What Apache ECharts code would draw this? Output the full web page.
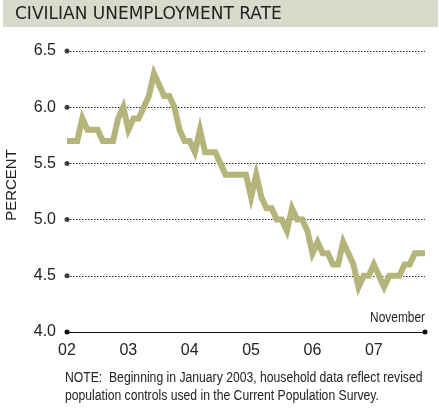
<!DOCTYPE html>
<html>
<head>
<meta charset="utf-8">
<script src="https://cdn.jsdelivr.net/npm/echarts@6/dist/echarts.min.js"></script>
<style>
html,body{margin:0;padding:0;background:#fff;}
#c{width:439px;height:411px;}
</style>
</head>
<body>
<div id="c"></div>
<script>
// Monthly civilian unemployment rate, Jan 2002 – Nov 2007
const rate2002 = [5.7,5.7,5.7,5.9,5.8,5.8,5.8,5.7,5.7,5.7,5.9,6.0];
const rate2003 = [5.8,5.9,5.9,6.0,6.1,6.3,6.2,6.1,6.1,6.0,5.8,5.7];
const rate2004 = [5.7,5.6,5.8,5.6,5.6,5.6,5.5,5.4,5.4,5.4,5.4,5.4];
const rate2005 = [5.2,5.4,5.2,5.1,5.1,5.0,5.0,4.9,5.1,5.0,5.0,4.9];
const rate2006 = [4.7,4.8,4.7,4.7,4.6,4.6,4.8,4.7,4.6,4.4,4.5,4.5];
const rate2007 = [4.6,4.5,4.4,4.5,4.5,4.5,4.6,4.6,4.7,4.7,4.7];
const yearLabels = ['02','03','04','05','06','07'];
const yTicks = [4.5,5.0,5.5,6.0,6.5];

const allRates = [].concat(rate2002,rate2003,rate2004,rate2005,rate2006,rate2007);
const lineData = allRates.map((v,i)=>[i,v]);
const dotData = yTicks.map(v=>[0,v]);

const font = '"Liberation Sans", Arial, sans-serif';
const chart = echarts.init(document.getElementById('c'), null, {renderer:'canvas'});
chart.setOption({
  animation:false,
  backgroundColor:'#fff',
  grid:{left:67,right:14,top:51,bottom:79},
  graphic:[
    {type:'rect',shape:{x:3,y:0,width:435,height:27},style:{fill:'#d9dacc'},z:0},
    {type:'text',x:15,y:6,style:{text:'CIVILIAN UNEMPLOYMENT RATE',font:'17px "DejaVu Sans", sans-serif',fill:'#222'},z:1},
    {type:'text',x:425,y:311,scaleX:0.85,style:{text:'November',font:'14px '+font,fill:'#222',align:'right'}},
    {type:'text',x:65,y:369,scaleX:0.87,style:{text:'NOTE:  Beginning in January 2003, household data reflect revised\npopulation controls used in the Current Population Survey.',font:'14px '+font,fill:'#222',lineHeight:18}},
    {type:'text',x:12,y:185,rotation:Math.PI/2,style:{text:'PERCENT',font:'15px '+font,fill:'#222',align:'center',verticalAlign:'middle'}}
  ],
  xAxis:{
    type:'value',min:0,max:70,interval:12,
    axisLine:{show:true,lineStyle:{color:'#111',width:1},symbol:['circle','circle'],symbolSize:[5,5]},
    axisTick:{show:false},
    splitLine:{show:false},
    axisLabel:{margin:11,fontSize:16,fontFamily:font,color:'#222',showMaxLabel:false,
      formatter:v=> (v%12===0 && yearLabels[v/12]!==undefined) ? yearLabels[v/12] : ''}
  },
  yAxis:{
    type:'value',min:4.0,max:6.5,interval:0.5,
    axisLine:{show:false},axisTick:{show:false},
    splitLine:{show:true,lineStyle:{color:'#222',type:[1.5,1.5],width:1}},
    axisLabel:{margin:11,fontSize:16,fontFamily:font,color:'#222',formatter:v=>v.toFixed(1)}
  },
  series:[
    {type:'scatter',data:dotData,symbol:'circle',symbolSize:5,itemStyle:{color:'#111'},clip:false,silent:true,z:3},
    {type:'line',data:lineData,showSymbol:false,lineStyle:{color:'#b5b47a',width:6,join:'miter'},z:4,clip:false}
  ]
});
</script>
</body>
</html>
